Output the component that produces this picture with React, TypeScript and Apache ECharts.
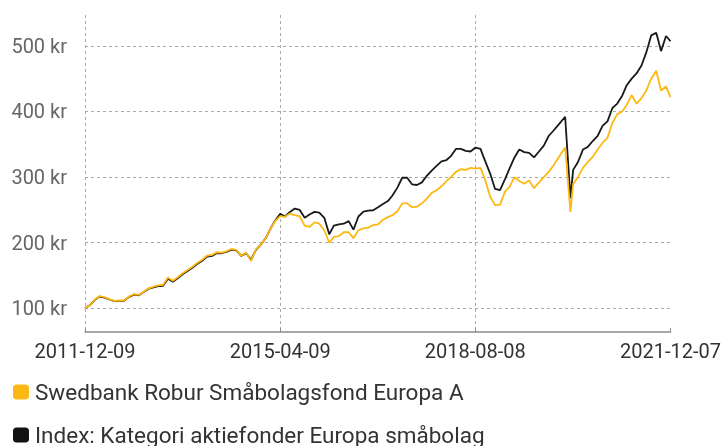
import React, { useEffect, useRef } from 'react';
import * as echarts from 'echarts';

const dates = [
  '2011-12-09',
  '2012-01-09', '2012-02-09', '2012-03-09', '2012-04-09', '2012-05-09', '2012-06-09', '2012-07-09', '2012-08-09', '2012-09-09', '2012-10-09', '2012-11-09', '2012-12-09',
  '2013-01-09', '2013-02-09', '2013-03-09', '2013-04-09', '2013-05-09', '2013-06-09', '2013-07-09', '2013-08-09', '2013-09-09', '2013-10-09', '2013-11-09', '2013-12-09',
  '2014-01-09', '2014-02-09', '2014-03-09', '2014-04-09', '2014-05-09', '2014-06-09', '2014-07-09', '2014-08-09', '2014-09-09', '2014-10-09', '2014-11-09', '2014-12-09',
  '2015-01-09', '2015-02-09', '2015-03-09', '2015-04-09', '2015-05-09', '2015-06-09', '2015-07-09', '2015-08-09', '2015-09-09', '2015-10-09', '2015-11-09', '2015-12-09',
  '2016-01-09', '2016-02-09', '2016-03-09', '2016-04-09', '2016-05-09', '2016-06-09', '2016-07-09', '2016-08-09', '2016-09-09', '2016-10-09', '2016-11-09', '2016-12-09',
  '2017-01-09', '2017-02-09', '2017-03-09', '2017-04-09', '2017-05-09', '2017-06-09', '2017-07-09', '2017-08-09', '2017-09-09', '2017-10-09', '2017-11-09', '2017-12-09',
  '2018-01-09', '2018-02-09', '2018-03-09', '2018-04-09', '2018-05-09', '2018-06-09', '2018-07-09', '2018-08-09', '2018-09-09', '2018-10-09', '2018-11-09', '2018-12-09',
  '2019-01-09', '2019-02-09', '2019-03-09', '2019-04-09', '2019-05-09', '2019-06-09', '2019-07-09', '2019-08-09', '2019-09-09', '2019-10-09', '2019-11-09', '2019-12-09',
  '2020-01-09', '2020-02-19', '2020-03-23', '2020-04-09', '2020-05-09', '2020-06-09', '2020-07-09', '2020-08-09', '2020-09-09', '2020-10-09', '2020-11-09', '2020-12-09',
  '2021-01-09', '2021-02-09', '2021-03-09', '2021-04-09', '2021-05-09', '2021-06-09', '2021-07-09', '2021-08-09', '2021-09-09', '2021-10-09', '2021-11-09', '2021-12-07',
];

const fundValues = [
  100,
  105, 113.5, 118.5, 117, 114, 111.5, 112, 112, 118, 121.5, 120.5, 125.5,
  130.5, 133, 135, 136, 147, 142, 147.5, 153.5, 158.5, 163.5, 169.5, 174,
  180.5, 181.5, 185.5, 185, 187, 190.5, 189, 180, 185, 172, 190, 197,
  207, 222, 233, 240.5, 239.5, 244.5, 242, 240, 226, 224, 231, 229,
  219, 200, 209, 210, 216, 216, 207, 219, 222, 223, 227, 228,
  235, 239, 242, 248, 260, 260, 254, 255, 260, 267, 276, 280,
  286, 294, 300, 308, 312, 311, 314, 313, 314, 295, 270, 257,
  258, 278, 285, 300, 294, 290, 295, 283, 292, 300, 308, 318,
  330, 345, 247, 290, 300, 314, 323, 331, 342, 352, 360, 382,
  396, 400, 410, 425, 412, 420, 432, 450, 462, 432, 438, 422,
];

const indexValues = [
  100,
  105, 113, 118, 116.5, 113.5, 111, 111.5, 111.5, 117.5, 121, 120, 125,
  130, 132, 134, 134.5, 145, 140.5, 146, 152, 157, 162, 168, 172.5,
  179, 180, 184, 184, 186, 189.5, 188.5, 180, 184, 174, 189, 197,
  207, 222, 234, 244, 240, 247, 252, 250, 238, 243, 247, 246,
  238, 213, 226, 228, 229, 233, 220, 240, 247.5, 249, 249.5, 254,
  259, 263.5, 272, 284, 299, 299, 289, 288, 292, 302, 310, 317,
  324, 326, 332, 343, 343, 340, 339, 345, 343, 324, 305, 282,
  280, 297, 313, 330, 342, 338, 337, 330, 339, 348, 363, 371,
  380, 392, 268, 311, 323, 342, 346, 355, 363, 378, 385, 405,
  412, 424, 440, 450, 458, 470, 490, 516, 520, 492, 515, 507,
];

const xTickDates = ['2011-12-09', '2015-04-09', '2018-08-08', '2021-12-07'];
const yTickValues = [100, 200, 300, 400, 500];
const fundName = 'Swedbank Robur Småbolagsfond Europa A';
const indexName = 'Index: Kategori aktiefonder Europa småbolag';

export default function App() {
  const ref = useRef<HTMLDivElement>(null);
  useEffect(() => {
    if (!ref.current) return;
    const chart = echarts.init(ref.current, null, { renderer: 'svg' });
    const toTs = (d: string) => +echarts.time.parse(d);
    const xTicks = xTickDates.map(toTs);
    const labelFor = (v: number) => {
      const i = xTicks.findIndex((t) => Math.abs(t - v) < 86400000);
      return i >= 0 ? xTickDates[i] : '';
    };
    const legendBase = {
      orient: 'vertical',
      left: 13,
      padding: 0,
      itemWidth: 16,
      itemHeight: 15,
      itemGap: 0,
      icon: 'roundRect',
      textStyle: { fontSize: 22.5, color: '#333', lineHeight: 26, fontFamily: 'Roboto', padding: [0, 0, 0, 1] },
    };
    chart.setOption({
      animation: false,
      textStyle: { fontFamily: 'Roboto' },
      grid: { left: 85, right: 53, top: 15, bottom: 114 },
      legend: [
        { ...legendBase, top: 379, data: [fundName] },
        { ...legendBase, top: 422, data: [indexName] },
      ],
      xAxis: {
        type: 'value',
        min: xTicks[0],
        max: xTicks[xTicks.length - 1],
        axisLine: { show: true, onZero: false, lineStyle: { color: '#8a8a8a', width: 1.5 } },
        axisTick: { show: true, inside: true, length: 4, customValues: xTicks, lineStyle: { color: '#8a8a8a' } },
        axisLabel: {
          customValues: xTicks,
          formatter: labelFor,
          color: '#333',
          fontSize: 20,
          margin: 9,
          showMinLabel: true,
          showMaxLabel: true,
          hideOverlap: false,
        },
        splitLine: { show: true, showMaxLine: false, lineStyle: { type: [3, 3], color: '#aaaaaa', width: 1 } },
      },
      yAxis: {
        type: 'value',
        min: 64,
        max: 547,
        axisLine: { show: false },
        axisTick: { show: false, customValues: yTickValues },
        axisLabel: { customValues: yTickValues, formatter: '{value} kr', color: '#666', fontSize: 20, margin: 18 },
        splitLine: { show: true, lineStyle: { type: [3, 3], color: '#aaaaaa', width: 1 } },
      },
      series: [
        {
          name: indexName,
          type: 'line',
          data: dates.map((d, i) => [toTs(d), indexValues[i]]),
          showSymbol: false,
          symbol: 'none',
          itemStyle: { color: '#111111' },
          lineStyle: { color: '#1a1a1a', width: 1.8 },
        },
        {
          name: fundName,
          type: 'line',
          data: dates.map((d, i) => [toTs(d), fundValues[i]]),
          showSymbol: false,
          symbol: 'none',
          itemStyle: { color: '#FDB913' },
          lineStyle: { color: '#FDB913', width: 1.8 },
        },
      ],
    });
    return () => chart.dispose();
  }, []);
  return <div ref={ref} style={{ position: 'fixed', left: 0, top: 0, width: 724, height: 446 }} />;
}
